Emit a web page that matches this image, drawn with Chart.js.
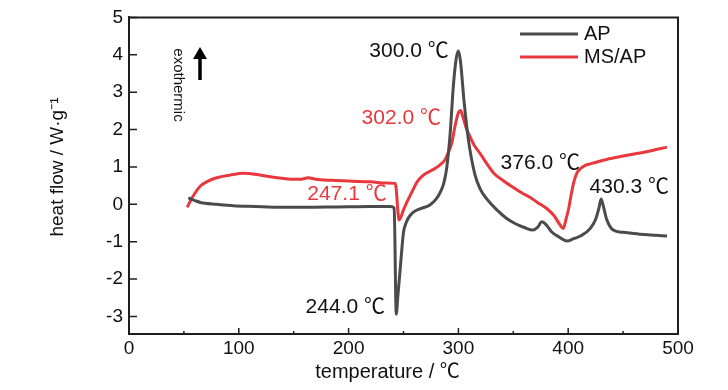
<!DOCTYPE html>
<html>
<head>
<meta charset="utf-8">
<script src="https://cdn.jsdelivr.net/npm/chart.js@4/dist/chart.umd.min.js"></script>
<style>
html, body { margin: 0; padding: 0; background: #fff; }
#wrap { width: 728px; height: 390px; position: relative; }
</style>
</head>
<body>
<div id="wrap"><canvas id="dsc"></canvas></div>
<script>
// DSC curves (temperature in C, heat flow in W/g)
const apT    = [54, 60, 65, 80, 95, 115, 135, 160, 190, 220, 238, 241.5, 243.4, 245, 246.8, 248.5, 250, 253, 256, 259, 265, 274, 280, 284, 287, 289.5, 292.5, 295.5, 298, 300, 302, 305, 309, 315, 320, 326, 335, 344, 352, 360, 368, 372, 376, 380, 385, 392, 399, 405, 411, 420, 425, 428, 430, 432, 435, 441, 450, 465, 480, 490];
const apHeat = [0.17, 0.1, 0.05, 0.0, -0.04, -0.06, -0.08, -0.08, -0.07, -0.06, -0.06, -0.1, -2.94, -2.4, -1.8, -1.2, -0.75, -0.45, -0.3, -0.21, -0.12, -0.02, 0.15, 0.35, 0.6, 1.0, 1.9, 3.2, 3.9, 4.1, 3.8, 2.8, 1.75, 0.8, 0.4, 0.14, -0.15, -0.38, -0.52, -0.62, -0.69, -0.62, -0.47, -0.55, -0.74, -0.88, -0.98, -0.92, -0.85, -0.65, -0.4, -0.1, 0.14, -0.05, -0.4, -0.69, -0.75, -0.8, -0.83, -0.85];

const msT    = [53, 58, 65, 72, 80, 92, 104, 120, 135, 150, 157, 163, 170, 185, 200, 220, 235, 242.5, 246, 247.5, 250, 253, 258, 262, 268, 277, 283, 288, 291, 294, 297, 300, 302, 304, 307, 310.6, 315, 320, 326, 332, 340, 350, 358, 365.5, 372, 380.7, 387, 392.8, 395.5, 398, 400.4, 403, 405, 408, 411, 415.6, 420, 435, 450, 470, 490];
const msHeat = [-0.08, 0.2, 0.49, 0.62, 0.71, 0.78, 0.83, 0.78, 0.71, 0.67, 0.67, 0.71, 0.67, 0.64, 0.62, 0.6, 0.57, 0.56, -0.42, -0.35, -0.15, 0.05, 0.35, 0.58, 0.78, 0.93, 1.05, 1.2, 1.4, 1.64, 2.1, 2.45, 2.51, 2.35, 2.05, 1.81, 1.55, 1.35, 1.08, 0.84, 0.65, 0.45, 0.3, 0.18, 0.05, -0.12, -0.3, -0.56, -0.65, -0.4, -0.12, 0.3, 0.58, 0.84, 0.95, 1.04, 1.08, 1.2, 1.29, 1.4, 1.53];

const seriesNames = ['AP', 'MS/AP'];
const xTicks = [0, 100, 200, 300, 400, 500];
const xMinorTicks = [50, 150, 250, 350, 450];
const yTicks = [-3, -2, -1, 0, 1, 2, 3, 4, 5];

// peak labels, anchored in data coordinates
const noteText   = ['300.0 ℃', '302.0 ℃', '247.1 ℃', '244.0 ℃', '376.0 ℃', '430.3 ℃'];
const noteT      = [255, 248, 198.5, 197, 374.6, 455.6];
const noteHeat   = [4.09, 2.3, 0.27, -2.76, 1.11, 0.45];
const noteSeries = [0, 1, 1, 0, 0, 0];

const FONT = "'Liberation Sans', Arial, 'Noto Sans CJK SC', sans-serif";
const GRAY = '#4b4b4b';
const RED = '#e8383d';
const AXIS = '#1e1e1e';

function pts(xs, ys) { return xs.map((x, i) => ({ x: x, y: ys[i] })); }

const decor = {
  id: 'decor',
  afterDatasetsDraw(chart) {
    const ctx = chart.ctx;
    const a = chart.chartArea;
    const xs = chart.scales.x, ys = chart.scales.y;
    ctx.save();
    ctx.strokeStyle = AXIS;
    ctx.lineWidth = 2;
    // closing frame (top + right)
    ctx.beginPath();
    ctx.moveTo(a.left, a.top); ctx.lineTo(a.right, a.top); ctx.lineTo(a.right, a.bottom);
    ctx.stroke();
    // inward ticks
    ctx.lineWidth = 1.5;
    ctx.beginPath();
    yTicks.forEach(v => { const p = ys.getPixelForValue(v); ctx.moveTo(a.left, p); ctx.lineTo(a.left + 8, p); });
    xTicks.forEach(v => { const p = xs.getPixelForValue(v); ctx.moveTo(p, a.bottom); ctx.lineTo(p, a.bottom - 6); });
    xMinorTicks.forEach(v => { const p = xs.getPixelForValue(v); ctx.moveTo(p, a.bottom); ctx.lineTo(p, a.bottom - 3); });
    ctx.stroke();

    // legend
    ctx.textBaseline = 'middle';
    ctx.textAlign = 'left';
    ctx.font = '20px ' + FONT;
    chart.data.datasets.forEach((ds, i) => {
      const y = 34 + i * 23;
      ctx.strokeStyle = ds.borderColor;
      ctx.lineWidth = 3;
      ctx.beginPath(); ctx.moveTo(520, y); ctx.lineTo(578, y); ctx.stroke();
      ctx.fillStyle = '#111';
      ctx.fillText(ds.label, 584, y);
    });

    // peak labels
    ctx.textAlign = 'center';
    ctx.font = '21px ' + FONT;
    noteText.forEach((t, i) => {
      ctx.fillStyle = noteSeries[i] === 1 ? RED : '#111';
      ctx.fillText(t, xs.getPixelForValue(noteT[i]), ys.getPixelForValue(noteHeat[i]));
    });

    // exothermic marker
    ctx.save();
    ctx.translate(178, 85);
    ctx.rotate(Math.PI / 2);
    ctx.font = '15px ' + FONT;
    ctx.fillStyle = '#111';
    ctx.fillText('exothermic', 0, 0);
    ctx.restore();
    ctx.strokeStyle = '#000';
    ctx.fillStyle = '#000';
    ctx.lineWidth = 3.5;
    ctx.beginPath(); ctx.moveTo(200, 80); ctx.lineTo(200, 56); ctx.stroke();
    ctx.beginPath(); ctx.moveTo(200, 47); ctx.lineTo(193, 59); ctx.lineTo(207, 59); ctx.closePath(); ctx.fill();

    // axis titles
    ctx.fillStyle = '#111';
    ctx.font = '20px ' + FONT;
    ctx.fillText('temperature / ℃', 387.5, 372);
    ctx.save();
    ctx.translate(58, 167);
    ctx.rotate(-Math.PI / 2);
    ctx.font = '19px ' + FONT;
    ctx.fillText('heat flow / W·g⁻¹', 0, 0);
    ctx.restore();
    ctx.restore();
  }
};

new Chart(document.getElementById('dsc'), {
  type: 'line',
  data: {
    datasets: [
      { label: seriesNames[0], data: pts(apT, apHeat), borderColor: GRAY, borderWidth: 3, pointRadius: 0, cubicInterpolationMode: 'monotone', fill: false },
      { label: seriesNames[1], data: pts(msT, msHeat), borderColor: RED, borderWidth: 3, pointRadius: 0, cubicInterpolationMode: 'monotone', fill: false }
    ]
  },
  options: {
    responsive: true,
    maintainAspectRatio: false,
    animation: false,
    layout: { padding: { top: 13, right: 50, left: 0, bottom: 0 } },
    plugins: { legend: { display: false }, tooltip: { enabled: false } },
    scales: {
      x: {
        type: 'linear', min: 0, max: 500,
        afterBuildTicks: s => { s.ticks = xTicks.map(v => ({ value: v })); },
        afterFit: s => { s.height = 56; },
        grid: { display: false, drawTicks: false },
        border: { display: true, color: AXIS, width: 2 },
        ticks: { color: '#111', padding: 3, maxRotation: 0, font: { family: FONT, size: 19 } }
      },
      y: {
        type: 'linear', min: -3.47, max: 5,
        afterBuildTicks: s => { s.ticks = yTicks.map(v => ({ value: v })); },
        afterFit: s => { s.width = 129; },
        grid: { display: false, drawTicks: false },
        border: { display: true, color: AXIS, width: 2 },
        ticks: { color: '#111', padding: 6, font: { family: FONT, size: 19 } }
      }
    }
  },
  plugins: [decor]
});
</script>
</body>
</html>
